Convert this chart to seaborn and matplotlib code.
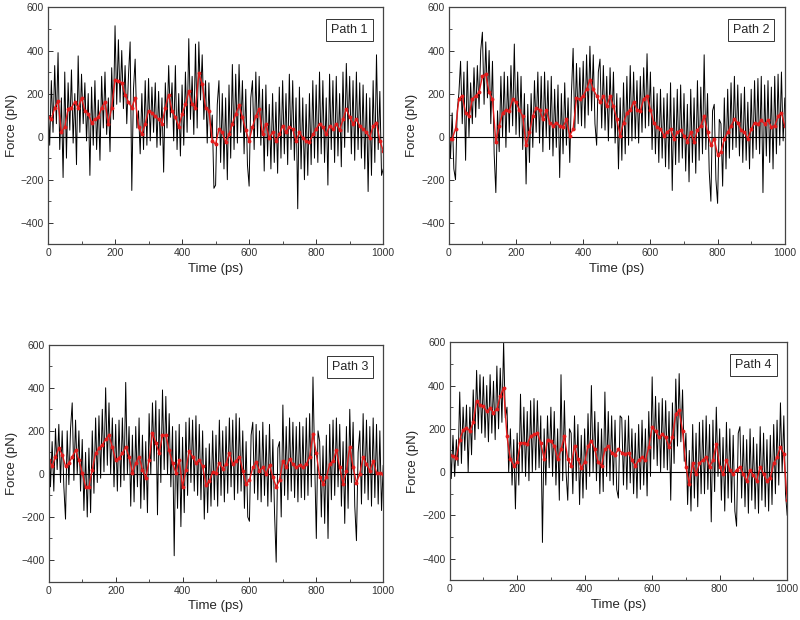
import numpy as np
import pandas as pd
import matplotlib
matplotlib.use('Agg')
import matplotlib.pyplot as plt
from matplotlib.ticker import MultipleLocator
import seaborn as sns

# raw force traces, sampled every 5 ps (0..1000)
time_raw = list(range(0, 1001, 5))
path1_raw = [
    150, -40, 260, 20, 330, 60, 390, -60, 180, -190,
    300, -100, 250, 30, 310, -30, 200, -130, 375, 20,
    290, 60, 250, -20, 200, -180, 230, -40, 260, -60,
    170, -110, 280, 40, 300, 10, 180, -70, 320, 80,
    515, 150, 450, 160, 400, 130, 330, 60, 280, 440,
    -250, 220, 360, 40, 120, -80, 200, -60, 260, -40,
    270, -20, 230, 20, 250, -50, 210, -40, 180, -165,
    250, 40, 330, 90, 250, -20, 330, -60, 200, -90,
    240, -40, 300, 20, 455, 80, 280, 10, 430, 40,
    440, 170, 380, 80, 260, -30, 250, 0, 100, -240,
    -225, 150, 260, -120, 200, -150, 180, -200, 240, -100,
    335, -60, 290, -30, 335, 20, 260, -80, 220, -130,
    -230, 180, 260, -60, 300, 0, 280, -40, 220, -160,
    240, -90, 150, -150, 200, -120, 160, -170, 230, -100,
    260, -80, 200, -130, 290, -60, 260, -110, 180, -335,
    230, -150, 180, -200, 150, -180, 200, -130, 260, -100,
    240, -120, 300, -80, 260, -120, 180, -225, 290, -60,
    260, -120, 280, -90, 200, -140, 300, -50, 340, 20,
    280, -80, 260, -110, 300, -60, 250, -100, 240, -150,
    200, -255, 180, -180, 260, -120, 380, -60, 210, -180,
    -150]
path2_raw = [
    80, -100, 110, -150, -200, 120, 200, 350, 60, 300,
    -110, 350, 0, 250, 60, 320, 90, 330, 130, 400,
    485, 150, 440, 180, 400, 60, 350, -80, -260, 120,
    -70, 280, 0, 300, -50, 280, 20, 330, 50, 430,
    10, 300, 0, 280, -60, 200, -220, 150, -120, 200,
    -50, 260, 20, 300, -30, 280, -70, 300, 0, 260,
    -60, 280, -90, 220, -50, 240, -190, 200, -80, 250,
    -40, 180, -120, 200, 410, 30, 340, 60, 320, 50,
    350, 40, 380, 100, 420, 120, 380, 60, -40, 300,
    360, 40, 330, 30, 280, -20, 320, 40, 300, -30,
    200, -150, 180, -110, 250, -80, 280, -40, 330, -20,
    300, -10, 260, -30, 280, 20, 320, 40, 385, 50,
    300, -60, 230, -80, 200, -120, 220, -100, 180, -140,
    200, -150, 250, -250, 180, -130, 220, -120, 240, -100,
    200, -160, 150, -210, 220, -120, 180, -170, 260, -110,
    230, -80, 380, -60, 200, -160, -300, 120, 150, -200,
    -310, 80, 60, -230, 180, -150, 220, -100, 250, -60,
    280, -50, 240, -90, 200, -120, 230, -110, 160, -150,
    220, -100, 260, -60, 270, -80, 280, -260, 240, -90,
    260, -120, 230, -150, 280, -80, 290, -40, 300, -20,
    180]
path3_raw = [
    200, -60, 150, -80, 210, 20, 230, -40, 200, -60,
    -210, 200, -50, 210, 330, -30, 250, 0, 200, -80,
    160, -170, 100, -200, 120, -180, 200, -90, 260, -40,
    270, -20, 300, 10, 400, 40, 330, 0, 260, -60,
    230, -80, 250, -60, 260, -30, 425, 0, 220, -150,
    180, -130, 220, -60, 260, -160, 180, -120, 150, -180,
    280, 0, 330, 60, 340, -190, 300, -40, 390, 20,
    360, 0, 280, -60, 220, -380, 200, -160, 230, -245,
    170, -180, 240, -100, 260, -40, 250, -80, 270, -100,
    230, -120, 200, -210, 120, -180, 140, -150, 200, -120,
    180, -150, 250, -100, 200, -130, 220, -90, 260, -60,
    250, -120, 280, -90, 260, -80, 200, -160, 150, -200,
    -220, 180, 240, -90, 230, -120, 200, -130, 240, -100,
    180, -150, 230, -130, 160, -180, -410, 120, 150, -200,
    320, -100, 220, -120, 260, -80, 240, -110, 220, -130,
    240, -110, 220, -120, 260, -100, 280, -60, 450, 60,
    -300, 200, 150, -200, 130, -230, 180, -300, 230, -120,
    250, -100, 260, -60, 230, -150, 150, -230, 220, -160,
    300, -40, 240, -150, -310, 100, 200, -140, 280, -90,
    250, -120, 220, -150, 260, -110, 230, -140, 200, -170,
    40]
path4_raw = [
    220, -30, 170, -20, 150, 30, 370, 40, 300, 100,
    310, 0, 300, 80, 380, 150, 470, 200, 450, 180,
    440, 160, 400, 140, 450, 180, 420, 150, 490, 200,
    480, 230, 600, 250, 300, 0, 200, -60, 150, -170,
    180, -60, 360, 0, 300, -20, 280, -40, 330, 0,
    340, 10, 330, 20, 260, -325, 200, -60, 260, 20,
    300, -20, 280, -60, 200, -130, 450, -40, 330, 0,
    -130, 200, 180, -100, 260, -40, 220, -150, 170, -120,
    200, -80, 270, -20, 400, 0, 280, -40, 230, -100,
    200, -90, 370, -20, 280, -40, 260, -60, 240, -80,
    -120, 260, 250, -60, 240, -80, 260, -50, 200, -100,
    180, -120, 220, -80, 240, -60, 200, -110, 280, -20,
    440, 60, 350, 30, 320, 0, 340, 20, 330, 10,
    280, -130, 320, 40, 430, 120, 455, 140, 380, 50,
    180, -150, 100, -180, 220, -120, 180, -160, 230, -100,
    240, -100, 260, -80, 220, -230, 240, -90, 300, -20,
    200, -130, 160, -180, 230, -120, 200, -140, 170, -180,
    -250, 180, 210, -120, 170, -160, 150, -190, 200, -130,
    160, -170, 130, -190, 210, -130, 180, -160, 150, -180,
    170, -150, 220, -100, 240, -60, 320, 0, 260, -100,
    -200]

# running averages, every 10 ps (0..1000)
time_avg = list(range(0, 1001, 10))
path1_avg = [
    90, 80, 135, 165, 20, 45, 130, 135, 160, 135,
    180, 120, 105, 65, 80, 90, 135, 160, 60, 135,
    265, 260, 250, 195, 160, 135, 180, 45, 10, 60,
    120, 110, 95, 80, 60, 135, 195, 120, 90, 45,
    105, 150, 210, 150, 135, 295, 245, 135, 120, -20,
    -35, 35, 20, -25, 10, 60, 105, 145, 90, 30,
    -20, 45, 95, 130, 10, 60, -5, 20, -20, 10,
    50, 20, 45, 35, -20, 20, -5, -20, -25, 10,
    35, 60, 45, 10, 50, 35, 60, 30, 80, 130,
    90, 60, 80, 50, 35, 20, -5, 50, 65, -20,
    -65]
path2_avg = [
    -10, -10, 35, 175, 190, 110, 95, 175, 190, 205,
    280, 290, 205, 175, -25, 50, 110, 125, 120, 175,
    160, 125, 95, -40, 20, 95, 135, 125, 80, 125,
    65, 50, 65, 50, 45, 80, 5, 35, 180, 175,
    190, 220, 265, 220, 190, 160, 190, 140, 190, 140,
    80, 5, 65, 110, 125, 160, 125, 120, 175, 190,
    125, 65, 45, 35, 5, 20, 35, -10, 20, 30,
    5, -25, 20, -25, 30, 50, 95, 20, -40, -10,
    -85, -70, -10, 20, 50, 80, 65, 30, 20, -10,
    35, 65, 60, 75, 60, 75, 45, 50, 95, 110,
    50]
path3_avg = [
    65, 35, 80, 120, 90, 35, 50, 80, 110, 65,
    5, -60, -60, 20, 95, 120, 135, 160, 180, 125,
    65, 75, 95, 125, 80, 5, 50, 80, 20, -20,
    65, 190, 145, 95, 180, 180, 110, 50, 5, 65,
    -60, 20, 105, 80, 50, 65, 35, -50, -35, 10,
    5, 50, 25, 45, 95, 45, 60, 80, 15, -45,
    -30, 30, 55, 15, 30, 0, 40, -15, -60, -30,
    60, 30, 70, 45, 30, 40, 30, 45, 80, 185,
    95, -15, -45, -15, 45, 60, 110, 30, -45, 15,
    125, 30, -40, 0, 80, 45, 15, 60, 5, 5,
    0]
path4_avg = [
    80, 75, 65, 150, 195, 205, 190, 230, 330, 310,
    305, 280, 295, 275, 290, 350, 390, 165, 60, 30,
    45, 135, 135, 130, 165, 175, 180, 135, 60, 150,
    145, 120, 60, 105, 165, 60, 30, 120, 60, 20,
    45, 120, 145, 105, 45, 30, 105, 120, 90, 80,
    105, 90, 85, 90, 55, 30, 55, 70, 55, 115,
    210, 190, 160, 175, 160, 115, 160, 270, 285, 190,
    25, -55, 40, -10, 40, 55, 70, 25, 55, 130,
    25, -10, 55, 10, -10, 10, 25, -10, -40, 10,
    -15, -40, 25, -10, -40, -25, 40, 70, 115, 85,
    -130]

labels = ['Path 1', 'Path 2', 'Path 3', 'Path 4']
raw_series = [path1_raw, path2_raw, path3_raw, path4_raw]
avg_series = [path1_avg, path2_avg, path3_avg, path4_avg]

sns.set_style('ticks')
plt.rcParams['font.family'] = ['Liberation Sans', 'DejaVu Sans']
plt.rcParams['xtick.direction'] = 'in'
plt.rcParams['ytick.direction'] = 'in'

fig = plt.figure(figsize=(8, 6.2), dpi=100)
positions = [
    [0.060, 0.606, 0.419, 0.382],
    [0.561, 0.606, 0.420, 0.382],
    [0.061, 0.062, 0.418, 0.382],
    [0.562, 0.064, 0.422, 0.384],
]

for pos, lab, raw, avg in zip(positions, labels, raw_series, avg_series):
    ax = fig.add_axes(pos)
    df_raw = pd.DataFrame({'t': time_raw, 'f': raw})
    df_avg = pd.DataFrame({'t': time_avg, 'f': avg})
    sns.lineplot(data=df_raw, x='t', y='f', ax=ax, color='black', lw=0.7)
    ax.axhline(0, color='black', lw=0.8)
    sns.lineplot(data=df_avg, x='t', y='f', ax=ax, color='#e41b1b', lw=1.0,
                 marker='o', markersize=2.8, markeredgewidth=0)
    ax.set_xlim(0, 1000)
    ax.set_ylim(-500, 600)
    ax.xaxis.set_major_locator(MultipleLocator(200))
    ax.xaxis.set_minor_locator(MultipleLocator(100))
    ax.yaxis.set_major_locator(MultipleLocator(200))
    ax.yaxis.set_minor_locator(MultipleLocator(100))
    ax.tick_params(which='major', length=3.5, width=0.7, labelsize=7.5, pad=3, colors='#333333')
    ax.tick_params(which='minor', length=2, width=0.6, colors='#333333')
    for s in ax.spines.values():
        s.set_color('#444444')
        s.set_linewidth(0.9)
    ax.set_xlabel('Time (ps)', fontsize=9.5, labelpad=3)
    ax.set_ylabel('Force (pN)', fontsize=9.5, labelpad=2)
    ax.text(0.9, 0.905, lab, transform=ax.transAxes, ha='center', va='center',
            fontsize=9, bbox=dict(boxstyle='square,pad=0.4', fc='white', ec='#333333', lw=0.7))

plt.savefig('out.png', dpi=100)
